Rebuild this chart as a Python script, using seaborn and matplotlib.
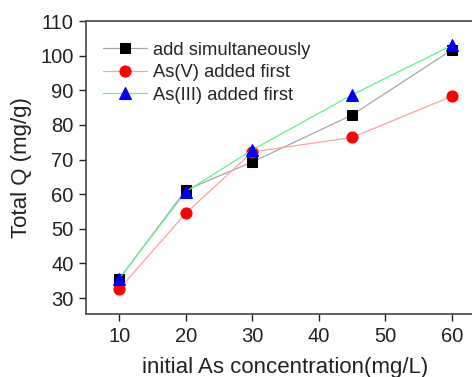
import numpy as np
import pandas as pd
import matplotlib
matplotlib.use("Agg")
import matplotlib.pyplot as plt
import seaborn as sns

# data
conc = [10, 20, 30, 45, 60]
q_simul = [35.5, 61.2, 69.3, 82.9, 101.7]
q_as5 = [32.6, 54.5, 72.2, 76.4, 88.3]
q_as3 = [35.6, 60.7, 72.8, 88.7, 103.0]

labels = ["add simultaneously", "As(V) added first", "As(III) added first"]

sns.set_style("ticks")
plt.rcParams['font.family'] = ['Liberation Sans', 'DejaVu Sans']

fig = plt.figure(figsize=(4.72, 3.77), dpi=100)
ax = fig.add_axes([0.182, 0.167, 0.846, 0.777])

b = pd.DataFrame({"conc": conc, "simul": q_simul, "as5": q_as5, "as3": q_as3})

sns.lineplot(x="conc", y="simul", data=b, ax=ax, color="#a8a8a8", lw=0.9,
             marker="s", markersize=7, markerfacecolor="black",
             markeredgecolor="black", label=labels[0])
sns.lineplot(x="conc", y="as5", data=b, ax=ax, color="#ffa0a0", lw=0.9,
             marker="o", markersize=8, markerfacecolor="#ff0000",
             markeredgecolor="#ff0000", label=labels[1])
sns.lineplot(x="conc", y="as3", data=b, ax=ax, color="#66f08c", lw=0.9,
             marker="^", markersize=8.5, markerfacecolor="#0000ff",
             markeredgecolor="#0000ff", label=labels[2])

ax.set_xlim(5, 65)
ax.set_ylim(25.4, 110)
ax.set_xticks([10, 20, 30, 40, 50, 60])
ax.set_yticks(np.arange(30, 111, 10))
ax.tick_params(direction="out", length=5, width=1, labelsize=14.5, colors="#222222", pad=4)
for s in ["left", "bottom", "top"]:
    ax.spines[s].set_visible(True)
    ax.spines[s].set_linewidth(1.2)
    ax.spines[s].set_color("#444444")

ax.set_xlabel("initial As concentration(mg/L)", fontsize=16, color="#222222", labelpad=8)
ax.set_ylabel("Total Q (mg/g)", fontsize=16, color="#222222", labelpad=6)

ax.legend(loc="upper left", bbox_to_anchor=(0.025, 0.955), frameon=False,
          fontsize=13.2, handlelength=2.4, handletextpad=0.3, labelspacing=0.3,
          borderaxespad=0)

fig.savefig("out.png", dpi=100)
